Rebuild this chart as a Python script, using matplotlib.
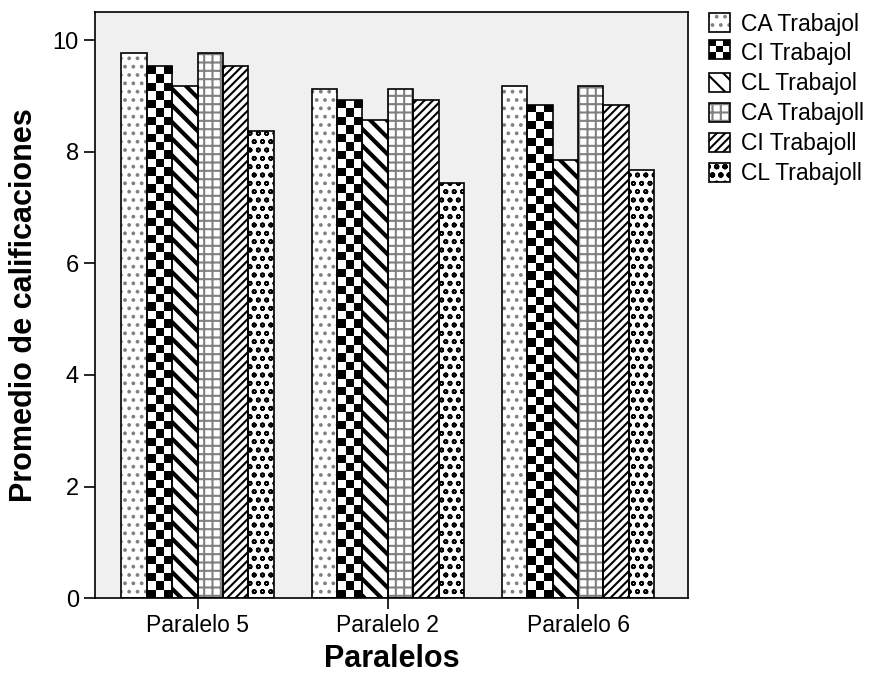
import numpy as np
import matplotlib.pyplot as plt
from matplotlib.patches import Rectangle
from matplotlib.legend_handler import HandlerBase

plt.rcParams['font.family'] = ['Liberation Sans', 'DejaVu Sans']
plt.rcParams['hatch.linewidth'] = 1.5

# data
grupos = ['Paralelo 5', 'Paralelo 2', 'Paralelo 6']
series = ['CA Trabajol', 'CI Trabajol', 'CL Trabajol',
          'CA Trabajoll', 'CI Trabajoll', 'CL Trabajoll']
ca_1 = [9.77, 9.12, 9.18]
ci_1 = [9.53, 8.92, 8.84]
cl_1 = [9.18, 8.57, 7.85]
ca_2 = [9.77, 9.12, 9.18]
ci_2 = [9.53, 8.92, 8.84]
cl_2 = [8.37, 7.44, 7.67]
valores = [ca_1, ci_1, cl_1, ca_2, ci_2, cl_2]

# patterns for each series (None = checkerboard drawn as image)
hatches = ['..', None, '\\\\', '++', '////', 'oo']
hatch_lw = [1.5, 1.5, 3.0, 1.5, 1.5, 1.2]
hatch_col = ['#808080', 'black', 'black', '#808080', 'black', 'black']


class HandlerChecker(HandlerBase):
    # small checkerboard square for the legend
    def create_artists(self, legend, orig, x0, y0, width, height, fontsize, trans):
        arts = []
        n = 3
        cw, ch = width / n, height / n
        for r in range(n):
            for c in range(n):
                col = 'black' if (r + c) % 2 == 0 else 'white'
                arts.append(Rectangle((x0 + c * cw, y0 + r * ch), cw, ch,
                                      facecolor=col, edgecolor='none', transform=trans))
        arts.append(Rectangle((x0, y0), width, height, facecolor='none',
                              edgecolor='black', lw=1.2, transform=trans))
        return arts


fig = plt.figure(figsize=(8.78, 6.79), dpi=100)
ax = fig.add_axes([0.108, 0.119, 0.676, 0.863])
ax.set_facecolor('#f0f0f0')

x = np.arange(len(grupos))
w = 0.8 / len(series)
handles = []
for i, (s, v) in enumerate(zip(series, valores)):
    pos = x - 0.4 + w * (i + 0.5)
    checker = hatches[i] is None
    # fill + hatch (hatch takes the edge colour)
    fill = ax.bar(pos, v, width=w, color='none' if checker else 'white',
                  edgecolor=hatch_col[i], linewidth=0, hatch=hatches[i], zorder=2)
    # black outline on top
    bars = ax.bar(pos, v, width=w, color='none', edgecolor='black',
                  linewidth=1.2, zorder=2.5)
    for b in fill:
        try:
            b.set_hatch_linewidth(hatch_lw[i])
        except AttributeError:
            pass
        if checker:
            bx, bw, bh = b.get_x(), b.get_width(), b.get_height()
            nrows = int(round(bh * 55.8 / 8.4))
            img = np.indices((nrows, 3)).sum(axis=0) % 2
            im = ax.imshow(img, cmap='gray', interpolation='nearest', aspect='auto',
                           extent=(bx, bx + bw, 0, bh), origin='lower', zorder=1.5)
            im.set_clip_path(b)
    handles.append((fill, bars))

ax.set_xlim(-0.54, 2.58)
ax.set_ylim(0, 10.5)
ax.set_yticks([0, 2, 4, 6, 8, 10])
ax.set_xticks(x)
ax.set_xticklabels(grupos)
ax.tick_params(axis='both', direction='out', length=8, width=1.2)
ax.tick_params(axis='y', labelsize=17)
ax.tick_params(axis='x', labelsize=16.5)
for sp_ in ax.spines.values():
    sp_.set_linewidth(1.2)

ax.set_xlabel('Paralelos', fontsize=22, fontweight='bold', labelpad=5)
ax.set_ylabel('Promedio de calificaciones', fontsize=22, fontweight='bold', labelpad=10)

leg = fig.legend(handles=handles, labels=series, loc='upper left',
                 bbox_to_anchor=(0.797, 0.995), frameon=False, fontsize=16.5,
                 handlelength=0.9, handleheight=0.9, handletextpad=0.5,
                 labelspacing=0.3, borderaxespad=0,
                 handler_map={handles[1]: HandlerChecker()})

fig.savefig('out.png', dpi=100)
